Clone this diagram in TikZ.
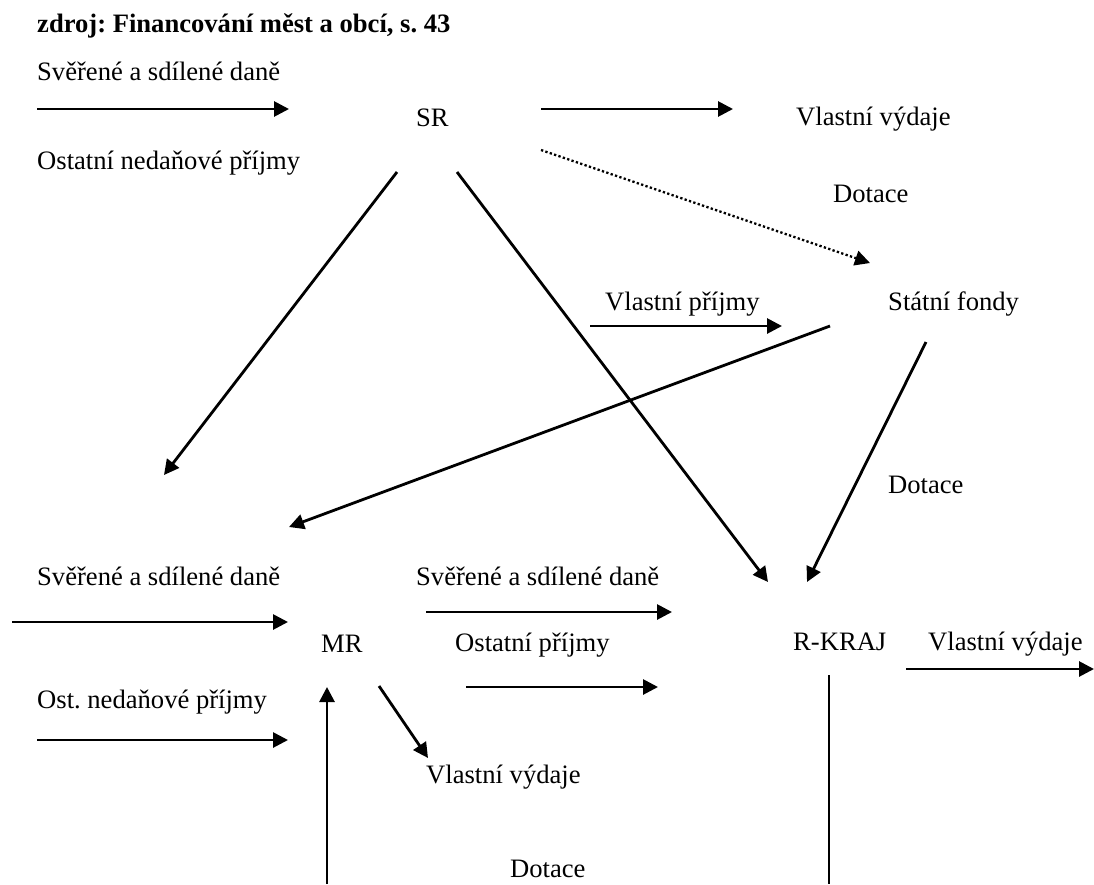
\documentclass[tikz,border=0pt]{standalone}
\usepackage{fontspec}
\setmainfont{Liberation Serif}
\usetikzlibrary{arrows.meta}
\frenchspacing
\begin{document}
\begin{tikzpicture}[x=1pt,y=-1pt,
  lbl/.style={anchor=base west,inner sep=0pt,font=\fontsize{26.6}{32}\selectfont\frenchspacing},
  ttl/.style={anchor=base west,inner sep=0pt,font=\fontsize{26.6}{32}\selectfont\bfseries\frenchspacing},
  flow/.style={line width=2.8pt,-{Triangle[length=15pt,width=15pt]}},
  plain/.style={line width=2.8pt},
  dots/.style={line width=2.3pt,dash pattern=on 2.3pt off 2.3pt,-{Triangle[length=15pt,width=15pt]}}]
\useasboundingbox (0,0) rectangle (1094,884);
% texts
\node[ttl] (title) at (37,32) {zdroj: Financování měst a obcí, s. 43};
\node[lbl] (t1) at (37,80) {Svěřené a sdílené daně};
\node[lbl] (sr) at (416,126) {SR};
\node[lbl] (vv1) at (796,125) {Vlastní výdaje};
\node[lbl] (t2) at (37,169) {Ostatní nedaňové příjmy};
\node[lbl] (dot1) at (833,202) {Dotace};
\node[lbl] (vp) at (605,310) {Vlastní příjmy};
\node[lbl] (sf) at (888,310) {Státní fondy};
\node[lbl] (dot2) at (888,493) {Dotace};
\node[lbl] (t3) at (37,585) {Svěřené a sdílené daně};
\node[lbl] (t4) at (416,585) {Svěřené a sdílené daně};
\node[lbl] (mr) at (321,652) {MR};
\node[lbl] (op) at (455,651) {Ostatní příjmy};
\node[lbl] (rk) at (793,650) {R-KRAJ};
\node[lbl] (vv2) at (928,650) {Vlastní výdaje};
\node[lbl] (t5) at (37,708) {Ost. nedaňové příjmy};
\node[lbl] (vv3) at (426,783) {Vlastní výdaje};
\node[lbl] (dot3) at (510,877) {Dotace};
% connector end points
\coordinate (a1s) at (37,109);   \coordinate (a1e) at (289,109);
\coordinate (a2s) at (541,109);  \coordinate (a2e) at (733,109);
\coordinate (d1s) at (541,150);  \coordinate (d1e) at (870,263);
\coordinate (l1s) at (397,172);  \coordinate (l1e) at (164,475);
\coordinate (l2s) at (457,172);  \coordinate (l2e) at (768,582);
\coordinate (a3s) at (590,326);  \coordinate (a3e) at (782,326);
\coordinate (l3s) at (830,326);  \coordinate (l3e) at (289,527);
\coordinate (l4s) at (926,342);  \coordinate (l4e) at (807,582);
\coordinate (a4s) at (12,622);   \coordinate (a4e) at (288,622);
\coordinate (a5s) at (426,612);  \coordinate (a5e) at (672,612);
\coordinate (a6s) at (466,687);  \coordinate (a6e) at (658,687);
\coordinate (a7s) at (906,669);  \coordinate (a7e) at (1094,669);
\coordinate (a8s) at (37,740);   \coordinate (a8e) at (288,740);
\coordinate (v1s) at (327,884);  \coordinate (v1e) at (327,687);
\coordinate (g1s) at (379,686);  \coordinate (g1e) at (428,758);
\coordinate (v2s) at (829,675);  \coordinate (v2e) at (829,884);
% connectors
\draw[flow] (a1s) -- (a1e);
\draw[flow] (a2s) -- (a2e);
\draw[dots] (d1s) -- (d1e);
\draw[flow] (l1s) -- (l1e);
\draw[flow] (l2s) -- (l2e);
\draw[flow] (a3s) -- (a3e);
\draw[flow] (l3s) -- (l3e);
\draw[flow] (l4s) -- (l4e);
\draw[flow] (a4s) -- (a4e);
\draw[flow] (a5s) -- (a5e);
\draw[flow] (a6s) -- (a6e);
\draw[flow] (a7s) -- (a7e);
\draw[flow] (a8s) -- (a8e);
\draw[flow] (v1s) -- (v1e);
\draw[flow] (g1s) -- (g1e);
\draw[plain] (v2s) -- (v2e);
\end{tikzpicture}
\end{document}
